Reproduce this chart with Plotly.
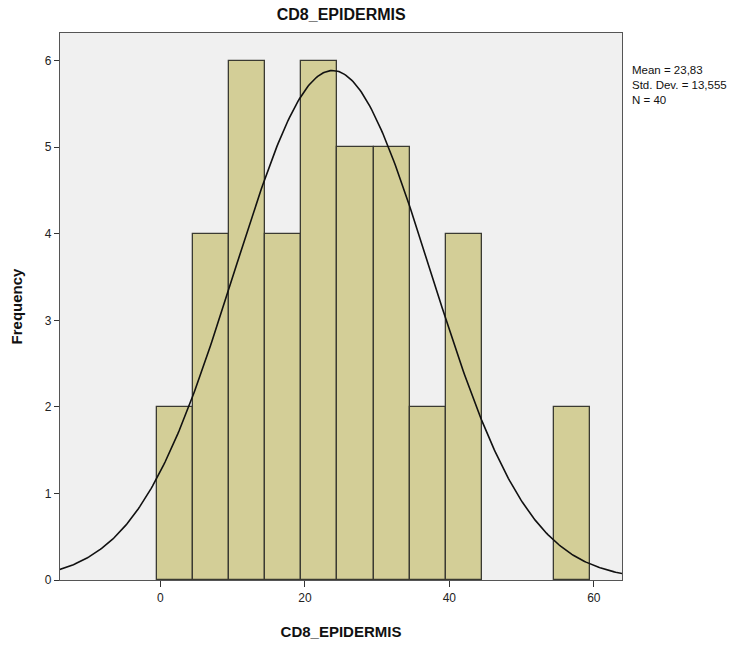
import numpy as np
import plotly.graph_objects as go

bin_starts = [-0.5, 4.5, 9.5, 14.5, 19.5, 24.5, 29.5, 34.5, 39.5, 44.5, 49.5, 54.5]
counts = [2, 4, 6, 4, 6, 5, 5, 2, 4, 0, 0, 2]
bin_width = 5
mean = 23.83
std = 13.555
n = 40
x_ticks = [0, 20, 40, 60]
y_ticks = [0, 1, 2, 3, 4, 5, 6]

centers = [s + bin_width / 2 for s in bin_starts]
bar_y = [c if c > 0 else None for c in counts]
xs = np.linspace(-14, 64, 400)
ys = n * bin_width / (std * np.sqrt(2 * np.pi)) * np.exp(-0.5 * ((xs - mean) / std) ** 2)

font = "Liberation Sans, Arial, sans-serif"
fig = go.Figure()
fig.add_trace(go.Bar(x=centers, y=bar_y, width=bin_width,
                     marker=dict(color="#D3CE97", line=dict(color="#3a3a32", width=1.3)),
                     hoverinfo="skip"))
fig.add_trace(go.Scatter(x=xs, y=ys, mode="lines", line=dict(color="#111111", width=1.6),
                         hoverinfo="skip"))

fig.update_layout(
    width=754, height=645,
    margin=dict(l=60, r=132, t=33, b=65),
    paper_bgcolor="white", plot_bgcolor="#F0F0F0",
    showlegend=False, bargap=0,
    font=dict(family=font, color="#222222", size=12),
    title=dict(text="<b>CD8_EPIDERMIS</b>", x=0.4525, xanchor="center", y=0.977, yanchor="middle",
               font=dict(size=16, family=font, color="#111111")),
)
fig.update_xaxes(range=[-13.9, 63.9], tickvals=x_ticks, ticks="outside", ticklen=6, tickwidth=1.3,
                 tickcolor="#333333", showline=True, linecolor="#555555", linewidth=1.3, mirror=True,
                 showgrid=False, zeroline=False, automargin=False,
                 title=dict(text="<b>CD8_EPIDERMIS</b>", font=dict(size=15, family=font, color="#111111"), standoff=22),
                 tickfont=dict(size=12))
fig.update_yaxes(range=[0, 6.32], tickvals=y_ticks, ticks="outside", ticklen=5, tickwidth=1.3,
                 tickcolor="#333333", showline=True, linecolor="#555555", linewidth=1.3, mirror=True,
                 showgrid=False, zeroline=False, automargin=False,
                 title=dict(text="<b>Frequency</b>", font=dict(size=15, family=font, color="#111111"), standoff=18),
                 tickfont=dict(size=12))
stats_text = ("Mean = " + f"{mean:.2f}".replace(".", ",") + "<br>" +
              "Std. Dev. = " + f"{std:.3f}".replace(".", ",") + "<br>" + f"N = {n}")
fig.add_annotation(xref="paper", yref="paper", x=1.0, y=1 - (62 - 33) / 547, xanchor="left", yanchor="top",
                   xshift=8, align="left", showarrow=False, text=stats_text,
                   font=dict(size=11.5, family=font, color="#111111"))
fig.write_html("out.html")
